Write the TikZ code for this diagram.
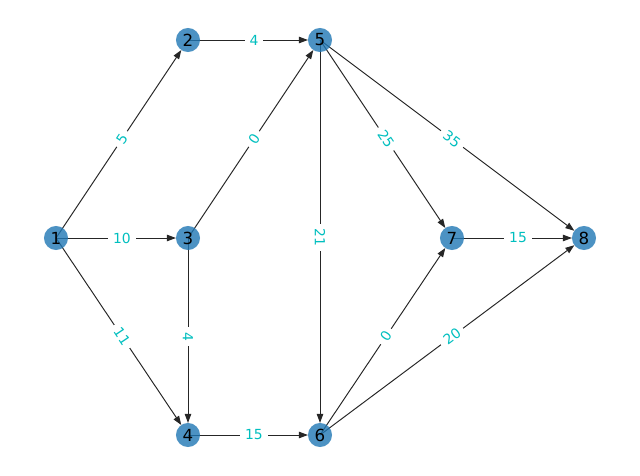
\documentclass[tikz,border=0pt]{standalone}
\usepackage{fontspec}
\setmainfont{DejaVu Sans}
\usepackage{xcolor}
\usetikzlibrary{arrows.meta,backgrounds}
\definecolor{nodeBlue}{RGB}{31,119,180}
\definecolor{weightCyan}{RGB}{0,191,191}

\begin{document}
\begin{tikzpicture}[x=0.72pt, y=-0.72pt,
    vert/.style={circle, fill=nodeBlue, fill opacity=0.8, text opacity=1, minimum size=17.3pt, inner sep=0pt, font=\fontsize{12}{14}\selectfont},
    arc/.style={-{Triangle[length=6.5pt,width=4.6pt]}, shorten >=8.65pt, line width=0.7pt, black!85},
    wt/.style={midway, sloped, fill=white, inner xsep=3.5pt, inner ysep=1.5pt, text=weightCyan, font=\fontsize{10}{12}\selectfont}]
  \useasboundingbox (0,0) rectangle (640,476);
  \node[vert] (n1) at (56,238) {1};
  \node[vert] (n2) at (188,40) {2};
  \node[vert] (n3) at (188,238) {3};
  \node[vert] (n4) at (188,435) {4};
  \node[vert] (n5) at (320,40) {5};
  \node[vert] (n6) at (320,435) {6};
  \node[vert] (n7) at (452,238) {7};
  \node[vert] (n8) at (584,238) {8};
  \begin{scope}[on background layer]
    \draw[arc] (n1.center) -- (n2.center) node[wt] {5};
    \draw[arc] (n1.center) -- (n3.center) node[wt] {10};
    \draw[arc] (n1.center) -- (n4.center) node[wt] {11};
    \draw[arc] (n2.center) -- (n5.center) node[wt] {4};
    \draw[arc] (n3.center) -- (n5.center) node[wt] {0};
    \draw[arc] (n3.center) -- (n4.center) node[wt] {4};
    \draw[arc] (n4.center) -- (n6.center) node[wt] {15};
    \draw[arc] (n5.center) -- (n6.center) node[wt] {21};
    \draw[arc] (n5.center) -- (n7.center) node[wt] {25};
    \draw[arc] (n5.center) -- (n8.center) node[wt] {35};
    \draw[arc] (n6.center) -- (n7.center) node[wt] {0};
    \draw[arc] (n6.center) -- (n8.center) node[wt] {20};
    \draw[arc] (n7.center) -- (n8.center) node[wt] {15};
  \end{scope}
\end{tikzpicture}
\end{document}
